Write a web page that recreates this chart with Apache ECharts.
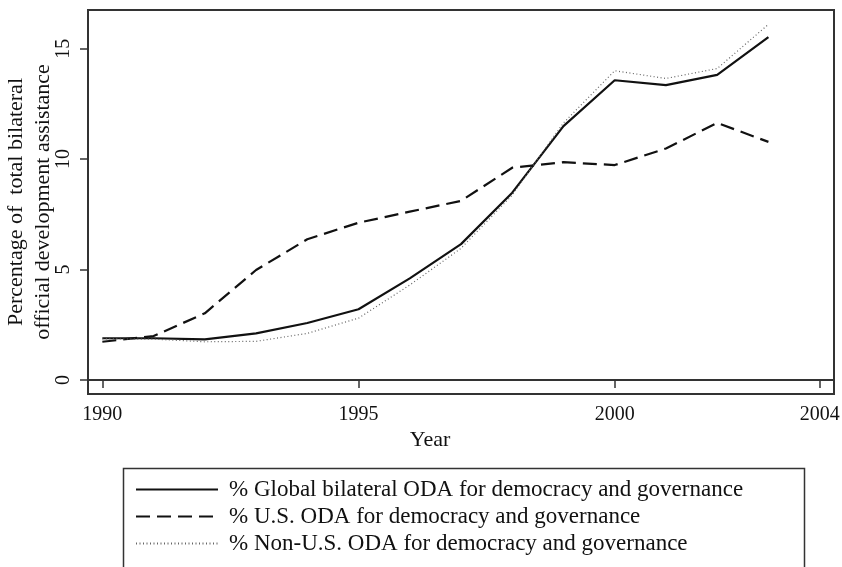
<!DOCTYPE html>
<html>
<head>
    <meta charset="utf-8">
    <title>ODA for democracy and governance</title>
    <script src="https://cdn.jsdelivr.net/npm/echarts@6/dist/echarts.min.js"></script>
    <style>
        html, body { margin: 0; padding: 0; background: #fff; }
        #chart1 { width: 842px; height: 567px; }
    </style>
</head>
<body>
<div id="chart1"></div>
<script type="text/javascript">
    // data
    const years = [1990, 1991, 1992, 1993, 1994, 1995, 1996, 1997, 1998, 1999, 2000, 2001, 2002, 2003];
    const globalOda = [1.89, 1.89, 1.84, 2.11, 2.58, 3.2, 4.6, 6.15, 8.48, 11.49, 13.57, 13.35, 13.81, 15.52];
    const usOda = [1.73, 1.99, 3.02, 4.98, 6.37, 7.12, 7.62, 8.11, 9.61, 9.86, 9.73, 10.48, 11.64, 10.78];
    const nonUsOda = [1.86, 1.85, 1.73, 1.75, 2.11, 2.8, 4.3, 5.96, 8.37, 11.64, 14.0, 13.65, 14.1, 16.1];
    const xTicks = [1990, 1995, 2000, 2004];
    const yTicks = [0, 5, 10, 15];
    const names = [
        '% Global bilateral ODA for democracy and governance',
        '% U.S. ODA for democracy and governance',
        '% Non-U.S. ODA for democracy and governance'
    ];

    const font = 'Liberation Serif';
    const pairs = (vals) => years.map((y, i) => [y, vals[i]]);

    let myChart1 = echarts.init(document.getElementById('chart1'));
    myChart1.setOption({
        animation: false,
        textStyle: { fontFamily: font, color: '#111' },
        grid: {
            left: 88, top: 10, right: 8, bottom: 173,
            containLabel: false,
            outerBoundsMode: 'none',
            show: true, borderColor: '#333', borderWidth: 2
        },
        xAxis: {
            type: 'value',
            min: 1989.72,
            max: 2004.28,
            splitLine: { show: false },
            axisLine: { show: true, lineStyle: { color: '#333', width: 2 } },
            axisTick: { show: true, customValues: xTicks, length: 8, lineStyle: { color: '#333', width: 1.5 } },
            axisLabel: {
                customValues: xTicks, fontSize: 20, color: '#111', margin: 11, fontFamily: font,
                formatter: (v) => String(v)
            }
        },
        yAxis: {
            type: 'value',
            min: -0.634,
            max: 16.75,
            name: 'Percentage of  total bilateral\nofficial development assistance',
            nameLocation: 'middle',
            nameRotate: 90,
            nameGap: 31,
            nameMoveOverlap: false,
            nameTextStyle: { fontSize: 22, lineHeight: 27, color: '#111', fontFamily: font },
            splitLine: { show: false },
            axisLine: { show: true, lineStyle: { color: '#333', width: 2 } },
            axisTick: { show: true, customValues: yTicks, length: 8, lineStyle: { color: '#333', width: 1.5 } },
            axisLabel: {
                customValues: yTicks, rotate: 90, fontSize: 20, color: '#111', margin: 14, fontFamily: font,
                formatter: (v) => String(v)
            }
        },
        legend: {
            orient: 'vertical',
            left: 130,
            top: 473,
            itemWidth: 82,
            itemHeight: 16,
            itemGap: 4,
            itemStyle: { opacity: 0 },
            textStyle: { fontSize: 23, color: '#111', fontFamily: font, padding: [0, 0, 0, 6] },
            data: names
        },
        graphic: [
            {
                type: 'rect',
                left: 121, top: 466,
                shape: { width: 681, height: 140 },
                style: { fill: 'none', stroke: '#333', lineWidth: 1.5 }
            },
            {
                type: 'text',
                x: 430, y: 440,
                style: { text: 'Year', fontSize: 22, fontFamily: font, fill: '#111', align: 'center', verticalAlign: 'middle' }
            }
        ],
        series: [
            {
                name: names[0], type: 'line', symbol: 'none',
                data: pairs(globalOda),
                lineStyle: { color: '#111', width: 2.2, type: 'solid' },
                itemStyle: { color: '#111' }
            },
            {
                name: names[1], type: 'line', symbol: 'none',
                data: pairs(usOda),
                lineStyle: { color: '#111', width: 2.2, type: [14, 7] },
                itemStyle: { color: '#111' }
            },
            {
                name: names[2], type: 'line', symbol: 'none',
                data: pairs(nonUsOda),
                lineStyle: { color: '#666', width: 1.2, type: [1, 2.5] },
                itemStyle: { color: '#666' }
            }
        ]
    });
</script>
</body>
</html>
